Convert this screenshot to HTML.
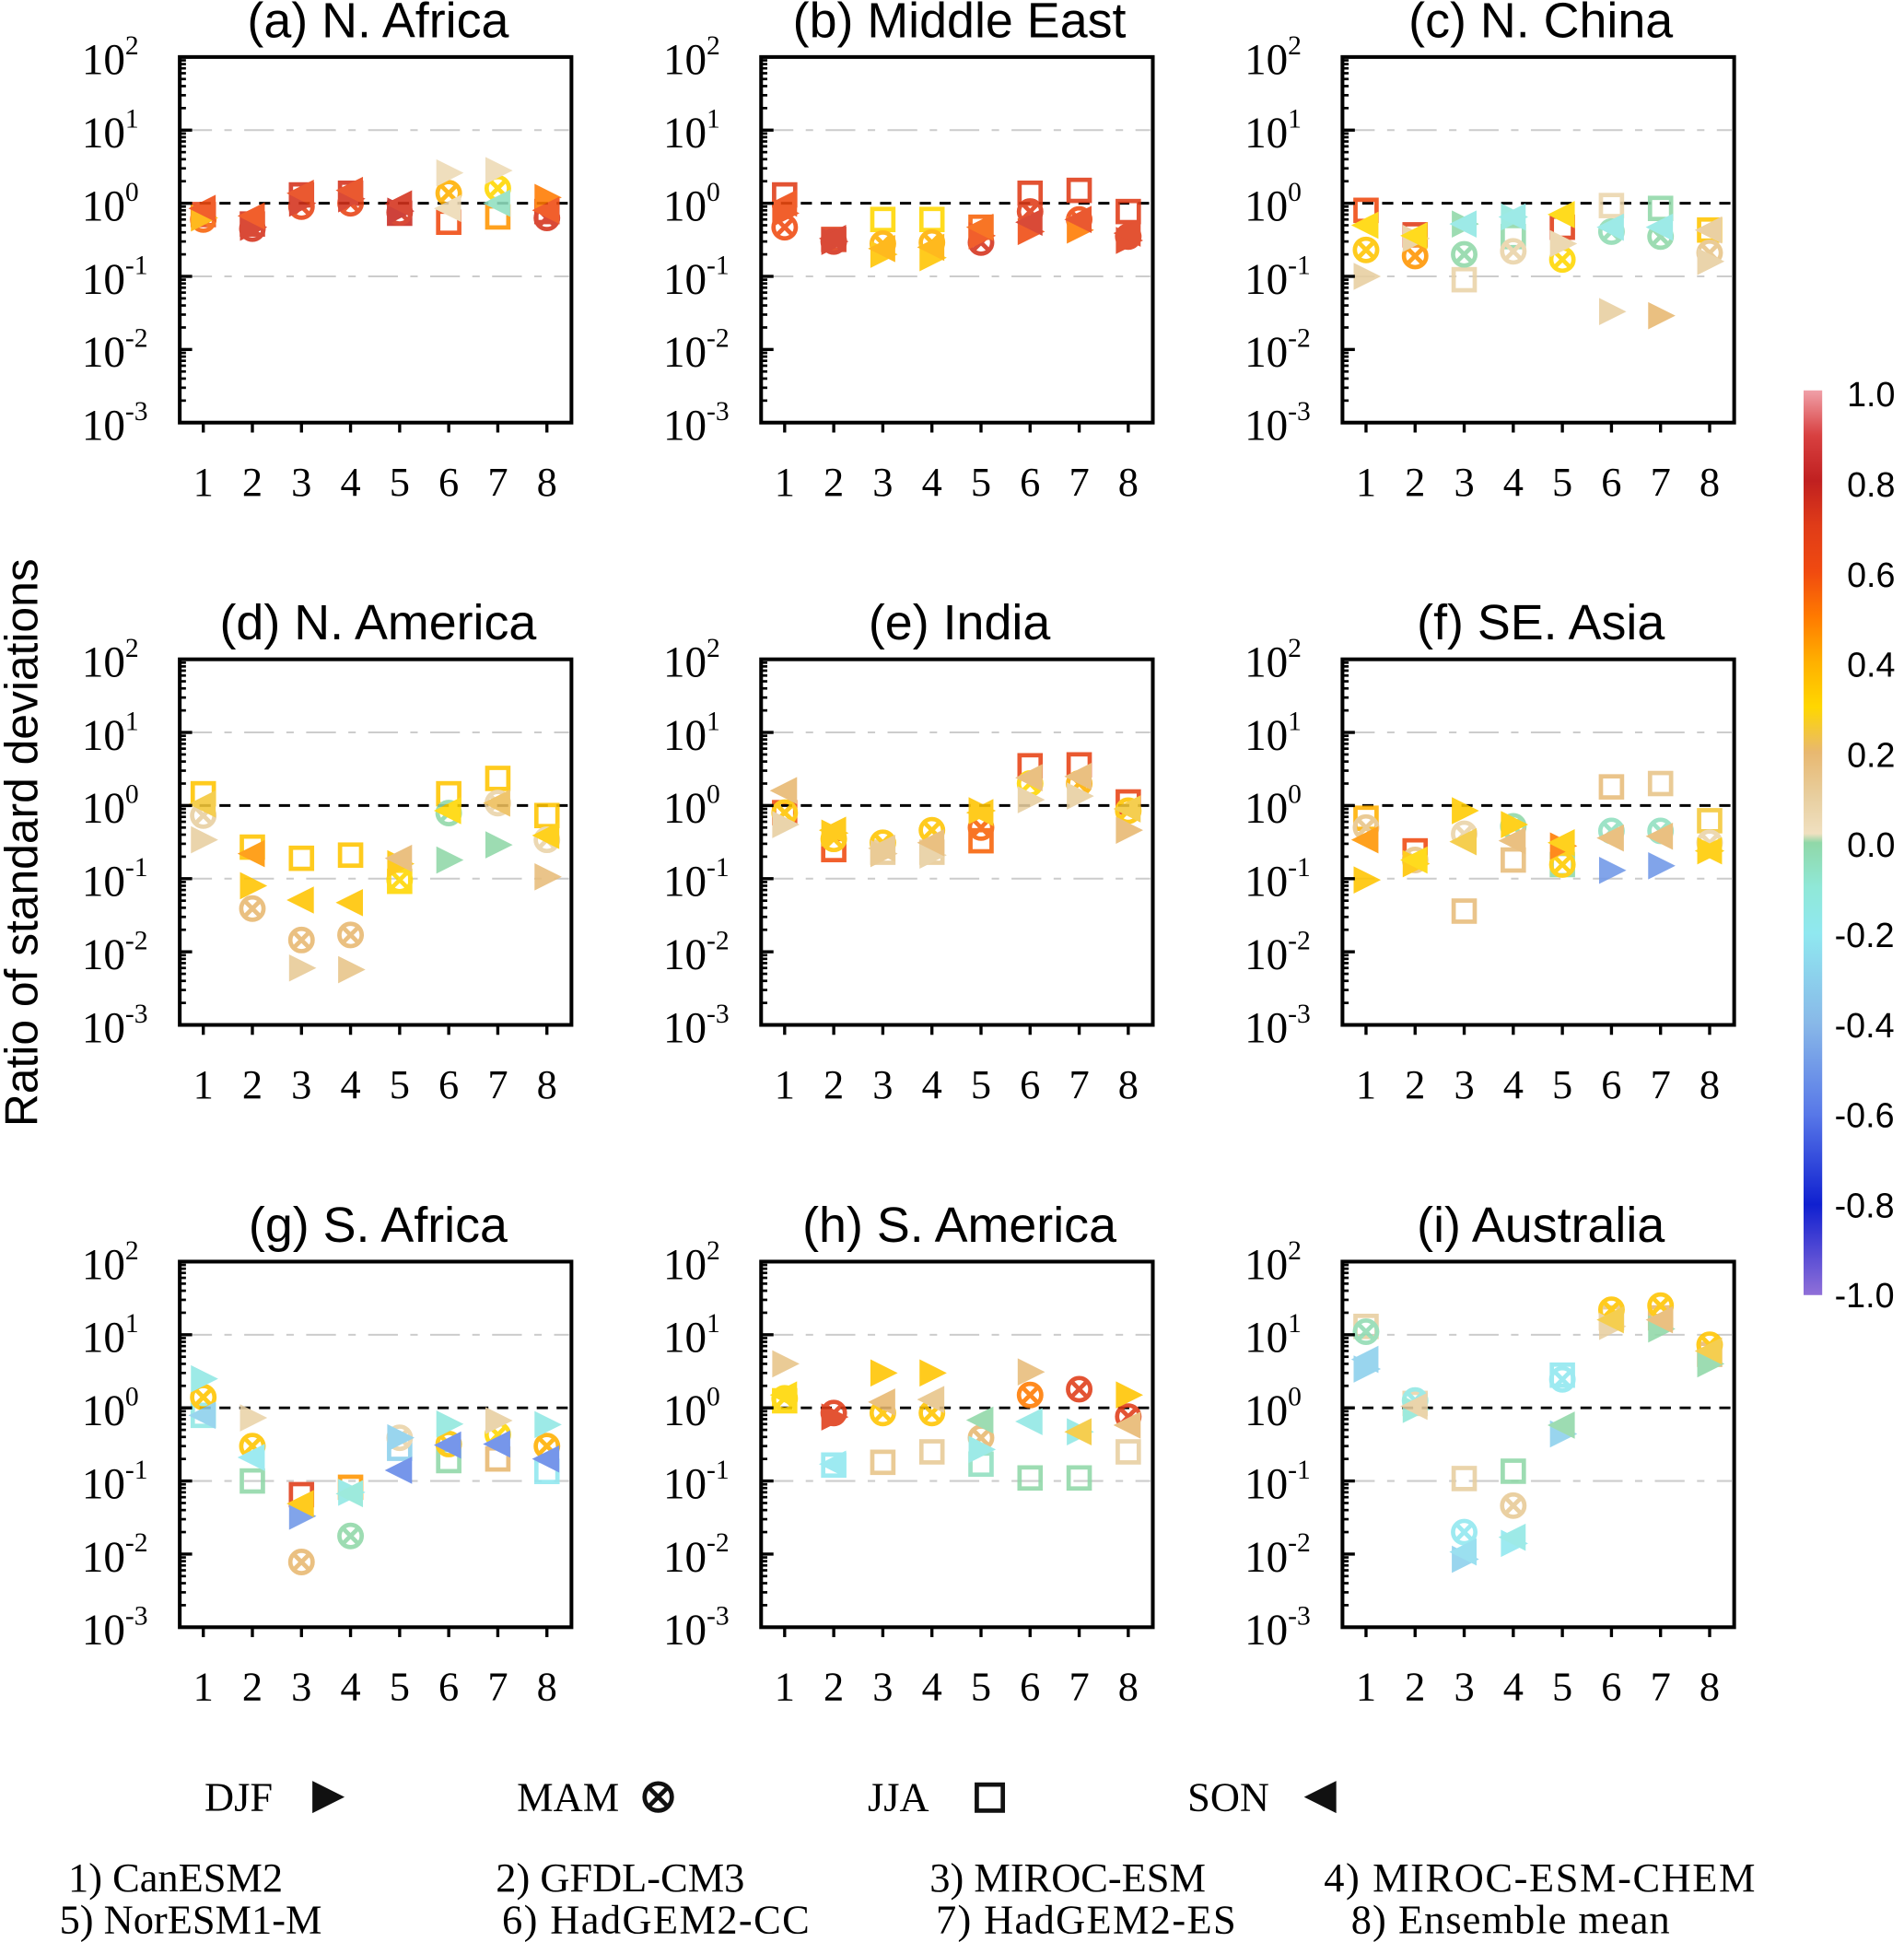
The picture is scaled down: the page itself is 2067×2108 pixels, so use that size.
<!DOCTYPE html>
<html><head><meta charset="utf-8"><style>
html,body{margin:0;padding:0;background:#fff;}
svg{display:block;}
.sans{font-family:"Liberation Sans",Arial,sans-serif;}
.serif{font-family:"Liberation Serif","Times New Roman",serif;}
</style></head><body>
<svg id="chart" width="2067" height="2108" viewBox="0 0 1536 1567" preserveAspectRatio="none" xmlns="http://www.w3.org/2000/svg">
<defs>
<linearGradient id="cbar" x1="0" y1="1" x2="0" y2="0">
<stop offset="0" stop-color="#9070d8"/><stop offset="0.1" stop-color="#1020d0"/><stop offset="0.2" stop-color="#5878e8"/><stop offset="0.3" stop-color="#88b8e8"/><stop offset="0.4" stop-color="#90e8f0"/><stop offset="0.45" stop-color="#90e8d8"/><stop offset="0.5" stop-color="#90d8a8"/><stop offset="0.51" stop-color="#f0e0c0"/><stop offset="0.55" stop-color="#e8cfa0"/><stop offset="0.6" stop-color="#e8b870"/><stop offset="0.65" stop-color="#ffd700"/><stop offset="0.7" stop-color="#ffb000"/><stop offset="0.75" stop-color="#ff7a00"/><stop offset="0.8" stop-color="#f04a10"/><stop offset="0.85" stop-color="#e03c18"/><stop offset="0.9" stop-color="#c02020"/><stop offset="0.95" stop-color="#d84040"/><stop offset="1" stop-color="#f0a0a8"/>
</linearGradient>
</defs>
<g id="panels"></g>
<text class="sans" x="0" y="0" font-size="37" text-anchor="middle" transform="translate(30,680) rotate(-90)">Ratio of standard deviations</text>
<rect x="1455" y="315" width="15" height="730" fill="url(#cbar)"/>
<g id="cbticks"></g>
<g class="serif" font-size="33">
<text x="165" y="1461">DJF</text>
<polygon points="252,1437 278,1450 252,1463" fill="#111"/>
<text x="417" y="1461">MAM</text>
<g stroke="#111" stroke-width="3.5" fill="none"><circle cx="531" cy="1450" r="11"/><line x1="523" y1="1442" x2="539" y2="1458"/><line x1="539" y1="1442" x2="523" y2="1458"/></g>
<text x="700" y="1461">JJA</text>
<rect x="788" y="1440" width="21" height="21" fill="none" stroke="#111" stroke-width="3.5"/>
<text x="958" y="1461">SON</text>
<polygon points="1078,1437 1052,1450 1078,1463" fill="#111"/>
<text x="55" y="1526">1) CanESM2</text>
<text x="400" y="1526">2) GFDL-CM3</text>
<text x="750" y="1526">3) MIROC-ESM</text>
<text x="1068" y="1526" textLength="348">4) MIROC-ESM-CHEM</text>
<text x="48" y="1560">5) NorESM1-M</text>
<text x="405" y="1560" textLength="248">6) HadGEM2-CC</text>
<text x="755" y="1560" textLength="242">7) HadGEM2-ES</text>
<text x="1090" y="1560" textLength="257">8) Ensemble mean</text>
</g>
</svg>
<script>
const panelTitles=["(a) N. Africa","(b) Middle East","(c) N. China","(d) N. America","(e) India","(f) SE. Asia","(g) S. Africa","(h) S. America","(i) Australia"];
const models=[1,2,3,4,5,6,7,8];
const decades=[2,1,0,-1,-2,-3];
const cbLabels=["1.0","0.8","0.6","0.4","0.2","0.0","-0.2","-0.4","-0.6","-0.8","-1.0"];
const djfRatio=[[0.63,0.47,1.0,1.15,0.78,2.6,2.8,1.2],[0.73,0.3,0.2,0.18,0.36,0.41,0.43,0.31],[0.1,0.33,0.52,0.65,0.28,0.033,0.029,0.16],[0.34,0.08,0.006,0.0057,0.16,0.18,0.29,0.106],[0.55,0.42,0.22,0.21,0.85,1.2,1.35,0.46],[0.096,0.16,0.85,0.55,0.28,0.13,0.15,0.24],[2.5,0.73,0.033,0.07,0.39,0.6,0.67,0.59],[4.0,0.75,3.0,3.0,0.27,3.1,0.47,1.5],[3.4,0.95,0.0085,0.014,0.44,13,12,4]];
const djfCorr=[[0.4,0.75,0.75,0.75,0.8,0.05,0.05,0.5],[0.6,0.75,0.35,0.35,0.6,0.6,0.5,0.7],[0.1,0.1,0.0,-0.12,0.08,0.1,0.2,0.1],[0.1,0.35,0.12,0.15,0.35,0.0,0.0,0.18],[0.1,0.35,0.15,0.1,0.35,0.1,0.1,0.2],[0.35,0.35,0.33,0.33,0.5,-0.5,-0.5,0.33],[-0.15,0.08,-0.5,-0.15,-0.3,-0.12,0.1,-0.15],[0.15,0.7,0.35,0.35,-0.15,0.18,-0.15,0.35],[-0.3,-0.1,-0.3,-0.2,-0.3,0.1,0.0,0.0]];
const mamRatio=[[0.6,0.45,0.9,1.0,0.75,1.37,1.6,0.63],[0.47,0.3,0.28,0.29,0.29,0.77,0.6,0.35],[0.23,0.19,0.2,0.22,0.17,0.41,0.35,0.21],[0.73,0.039,0.0145,0.017,0.096,0.79,1.08,0.34],[0.8,0.35,0.31,0.46,0.5,2.0,2.0,0.85],[0.5,0.18,0.41,0.52,0.156,0.45,0.45,0.31],[1.4,0.3,0.0078,0.0177,0.39,0.32,0.43,0.3],[1.35,0.85,0.85,0.85,0.39,1.5,1.8,0.76],[11,1.26,0.02,0.046,2.45,22,25,7.3]];
const mamCorr=[[0.55,0.75,0.65,0.65,0.75,0.4,0.3,0.75],[0.6,0.75,0.4,0.4,0.75,0.7,0.6,0.7],[0.35,0.45,0.0,0.08,0.3,-0.02,0.0,0.15],[0.1,0.2,0.2,0.2,0.3,0.0,0.08,0.08],[0.35,0.35,0.35,0.35,0.55,0.3,0.4,0.35],[0.15,0.15,0.08,0.0,0.33,-0.05,-0.05,0.08],[0.35,0.35,0.2,0.0,0.08,0.35,0.3,0.4],[0.3,0.7,0.35,0.35,0.2,0.5,0.7,0.7],[-0.02,-0.15,-0.2,0.12,-0.2,0.35,0.35,0.35]];
const jjaRatio=[[0.7,0.52,1.3,1.37,0.73,0.55,0.65,0.77],[1.3,0.32,0.6,0.6,0.47,1.37,1.5,0.77],[0.8,0.37,0.09,0.35,0.47,0.93,0.85,0.43],[1.45,0.27,0.19,0.21,0.092,1.45,2.35,0.73],[0.8,0.25,0.23,0.23,0.33,3.5,3.6,1.12],[0.67,0.24,0.036,0.18,0.156,1.8,2.0,0.62],[0.79,0.1,0.065,0.082,0.28,0.19,0.2,0.135],[1.25,0.165,0.18,0.25,0.17,0.11,0.11,0.25],[13,1.15,0.108,0.136,2.8,17,17,5.4]];
const jjaCorr=[[0.65,0.75,0.75,0.75,0.8,0.6,0.45,0.75],[0.7,0.7,0.3,0.3,0.55,0.7,0.7,0.7],[0.6,0.7,0.08,0.0,0.7,0.07,0.0,0.35],[0.35,0.35,0.35,0.35,0.3,0.35,0.35,0.35],[0.6,0.6,0.12,0.12,0.55,0.65,0.65,0.65],[0.4,0.6,0.18,0.18,0.0,0.18,0.15,0.25],[-0.15,0.0,0.7,0.45,-0.3,0.0,0.2,-0.2],[0.3,-0.2,0.15,0.12,-0.05,0.0,0.0,0.1],[0.1,0.08,0.1,0.0,-0.2,0.15,0.2,0.2]];
const sonRatio=[[0.85,0.67,1.37,1.5,0.98,0.85,1.0,0.8],[1.0,0.33,0.24,0.25,0.47,0.55,0.6,0.39],[0.5,0.36,0.52,0.65,0.7,0.47,0.47,0.43],[1.05,0.22,0.051,0.047,0.19,0.85,1.08,0.39],[1.6,0.46,0.26,0.31,0.8,2.4,2.5,0.9],[0.34,0.18,0.32,0.33,0.31,0.36,0.38,0.24],[0.79,0.21,0.049,0.067,0.14,0.31,0.32,0.2],[1.5,0.17,1.2,1.3,0.68,0.65,0.47,0.58],[4.6,1.05,0.0107,0.017,0.58,16,16,6]];
const sonCorr=[[0.6,0.6,0.65,0.65,0.75,0.05,-0.05,0.6],[0.6,0.75,0.4,0.4,0.55,0.75,0.65,0.7],[0.3,0.3,-0.15,-0.15,0.3,-0.15,-0.15,0.12],[0.25,0.45,0.35,0.35,0.2,0.3,0.22,0.33],[0.2,0.35,0.15,0.2,0.35,0.2,0.2,0.25],[0.45,0.3,0.25,0.2,0.33,0.2,0.2,0.33],[-0.3,-0.2,0.35,-0.1,-0.55,-0.55,-0.55,-0.55],[0.3,-0.2,0.2,0.15,0.0,-0.15,0.25,0.2],[-0.3,0.1,-0.25,-0.15,0.0,0.25,0.2,0.25]];

const NS="http://www.w3.org/2000/svg";
const cmapStops=[[-1,[144,112,216]],[-0.8,[16,32,208]],[-0.6,[88,120,232]],[-0.4,[136,184,232]],[-0.2,[144,232,240]],[-0.1,[144,232,216]],[0,[144,216,168]],[0.02,[240,224,192]],[0.1,[232,207,160]],[0.2,[232,184,112]],[0.3,[255,215,0]],[0.4,[255,176,0]],[0.5,[255,122,0]],[0.6,[240,74,16]],[0.7,[224,60,24]],[0.8,[200,40,32]],[0.9,[216,64,64]],[1,[240,160,168]]];
function cmap(c){c=Math.max(-1,Math.min(1,c));for(let i=0;i<cmapStops.length-1;i++){const a=cmapStops[i],b=cmapStops[i+1];if(c<=b[0]){const t=(c-a[0])/(b[0]-a[0]);const r=a[1].map((v,k)=>Math.round(v+(b[1][k]-v)*t));return `rgb(${r[0]},${r[1]},${r[2]})`;}}return "rgb(240,160,168)";}
function mk(tag,attrs,parent){const e=document.createElementNS(NS,tag);for(const k in attrs)e.setAttribute(k,attrs[k]);parent.appendChild(e);return e;}
const root=document.getElementById('panels');
const colX=[145,614,1083],rowY=[46,532,1018],PW=316,PH=295,DEC=59;
panelTitles.forEach((title,p)=>{
  const x0=colX[p%3],y0=rowY[Math.floor(p/3)];
  const xs=i=>x0+19+(i)*39.6;
  const ys=v=>y0+(2-Math.log10(v))*DEC;
  const g=mk('g',{},root);
  
  
  const t=mk('text',{x:x0+PW/2+2,y:y0-16,'font-size':40,'text-anchor':'middle',class:'sans'},g);t.textContent=title;
  
  
  [1,-1].forEach(d=>{const l=mk('line',{x1:x0+2,x2:x0+PW-2,y1:ys(Math.pow(10,d)),y2:ys(Math.pow(10,d)),stroke:'#cccccc','stroke-width':1.5,'stroke-dasharray':'24 10 6 10'},g);
    
    });
  const ref=mk('line',{x1:x0,x2:x0+PW,y1:ys(1),y2:ys(1),stroke:'#000','stroke-width':2.2,'stroke-dasharray':'9 7'},g);
  
  
  const mg=mk('g',{opacity:0.88},g);
  
  
  models.forEach((m,i)=>{
    const cx=xs(i);
    let y=ys(jjaRatio[p][i]);
    const sq=mk('rect',{x:cx-8.5,y:y-8.5,width:17,height:17,fill:'none',stroke:cmap(jjaCorr[p][i]),'stroke-width':3.5},mg);
    
    
    y=ys(mamRatio[p][i]);const col=cmap(mamCorr[p][i]);
    const cg=mk('g',{stroke:col,'stroke-width':3.5,fill:'none'},mg);
    
    
    mk('circle',{cx:cx,cy:y,r:9},cg);mk('line',{x1:cx-6,y1:y-6,x2:cx+6,y2:y+6},cg);mk('line',{x1:cx+6,y1:y-6,x2:cx-6,y2:y+6},cg);
    y=ys(djfRatio[p][i]);
    const dj=mk('polygon',{points:`${cx-10},${y-11} ${cx+12},${y} ${cx-10},${y+11}`,fill:cmap(djfCorr[p][i])},mg);
    
    
    y=ys(sonRatio[p][i]);
    const so=mk('polygon',{points:`${cx+10},${y-11} ${cx-12},${y} ${cx+10},${y+11}`,fill:cmap(sonCorr[p][i])},mg);
    
    
  });
  const fr=mk('rect',{x:x0,y:y0,width:PW,height:PH,fill:'none',stroke:'#000','stroke-width':3},g);
  
  
  decades.forEach(d=>{
    const yy=ys(Math.pow(10,d));
    mk('line',{x1:x0,x2:x0+10,y1:yy,y2:yy,stroke:'#000','stroke-width':2.5},g);
    if(d>-3){for(let k=2;k<=9;k++){const ym=ys(k*Math.pow(10,d-1));mk('line',{x1:x0,x2:x0+5,y1:ym,y2:ym,stroke:'#000','stroke-width':2},g);}}
    const lt=mk('text',{x:x0-44,y:yy+14,'font-size':35,'text-anchor':'end',class:'serif'},g);lt.textContent='10';
    
    
    const sp=mk('text',{x:x0-44,y:yy-2,'font-size':22,class:'serif'},g);sp.textContent=String(d);
    
    
  });
  models.forEach((m,i)=>{
    const cx=xs(i);
    mk('line',{x1:cx,x2:cx,y1:y0+PH,y2:y0+PH+8,stroke:'#000','stroke-width':2.5},g);
    const xt=mk('text',{x:cx,y:y0+PH+59,'font-size':33,'text-anchor':'middle',class:'serif'},g);xt.textContent=String(m);
    
    
  });
});
const cb=document.getElementById('cbticks');
cbLabels.forEach((s,i)=>{
  const t=mk('text',{x:s[0]==='-'?1480:1490,y:318+i*72.7+10,'font-size':28,class:'sans'},cb);t.textContent=s;
  
  
});
</script>
</body></html>
